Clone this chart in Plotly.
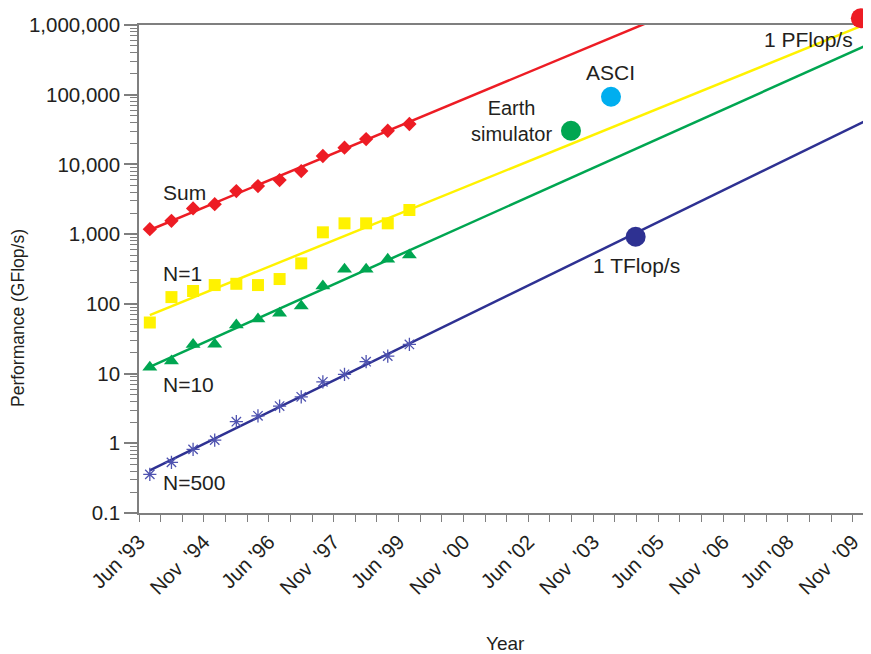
import plotly.graph_objects as go

# ---- data ----
# x is measured in TOP500 list periods (6 months each); 0 = Jun '93
periods = [0.5, 1.5, 2.5, 3.5, 4.5, 5.5, 6.5, 7.5, 8.5, 9.5, 10.5, 11.5, 12.5]
sum_vals = [1180, 1550, 2340, 2690, 4150, 4900, 5970, 8035, 13200, 17400, 23100, 30400, 38000]
n1_vals = [54, 125, 153, 186, 194, 186, 227, 381, 1062, 1429, 1429, 1429, 2219]
n10_vals = [12.3, 15.1, 26.2, 26.4, 49.7, 60.5, 73.1, 92.9, 180, 313, 313, 435, 501]
n500_vals = [0.358, 0.532, 0.818, 1.11, 2.04, 2.48, 3.42, 4.64, 7.62, 9.75, 14.8, 17.8, 26.2]

trend_x = [0.5, 33.5]
sum_trend = [1146, 2.12e7]
n1_trend_x = [0.5, 33.4]
n1_trend = [69, 9.7e5]
n10_trend = [12.5, 4.9e5]
n500_trend = [0.41, 41000]

milestone_names = ["1 TFlop/s", "Earth simulator", "ASCI", "1 PFlop/s"]
milestone_x = [22.96, 19.97, 21.82, 33.37]
milestone_y = [918, 30400, 93600, 1.25e6]
milestone_colors = ["#2e3192", "#00a651", "#00aeef", "#ed1c24"]

tick_periods = [0, 3, 6, 9, 12, 15, 18, 21, 24, 27, 30, 33]
tick_labels = ["Jun '93", "Nov\u00a0 '94", "Jun '96", "Nov\u00a0 '97", "Jun '99", "Nov\u00a0 '00",
               "Jun '02", "Nov\u00a0 '03", "Jun '05", "Nov\u00a0 '06", "Jun '08", "Nov\u00a0 '09"]
y_ticks = [0.1, 1, 10, 100, 1000, 10000, 100000, 1000000]
y_labels = ["0.1", "1", "10", "100", "1,000", "10,000", "100,000", "1,000,000"]

RED = "#ed1c24"
YEL = "#fff200"
GRN = "#00a651"
BLU = "#2e3192"
AST = "#4f53b0"
TXT = "#231f20"
AX = "#7f7f7f"
FONT = "Liberation Sans, Arial, Helvetica, sans-serif"

# layout geometry (window pixels; the page body adds an 8px offset)
FIG_W, FIG_H = 863, 646
L, B = 131, 141
AREA_H = FIG_H - B            # plotting region incl. room above the axes (505 px)
AXIS_H = 488.0                # height of the real y axis
Y_MIN, Y_MAX = -1, 6
Y_DOM_TOP = AXIS_H / AREA_H
Y2_MAX = Y_MIN + (Y_MAX - Y_MIN) / Y_DOM_TOP   # same px/decade on the helper axis

fig = go.Figure()

# trend lines
fig.add_trace(go.Scatter(x=trend_x, y=sum_trend, mode="lines", line=dict(color=RED, width=2.5), hoverinfo="skip"))
fig.add_trace(go.Scatter(x=n1_trend_x, y=n1_trend, mode="lines", line=dict(color=YEL, width=2.5), hoverinfo="skip"))
fig.add_trace(go.Scatter(x=trend_x, y=n10_trend, mode="lines", line=dict(color=GRN, width=2.5), hoverinfo="skip"))
fig.add_trace(go.Scatter(x=trend_x, y=n500_trend, mode="lines", line=dict(color=BLU, width=2.5), hoverinfo="skip"))

# data points
fig.add_trace(go.Scatter(x=periods, y=sum_vals, mode="markers", name="Sum",
                         marker=dict(symbol="diamond", size=11, color=RED)))
fig.add_trace(go.Scatter(x=periods, y=n1_vals, mode="markers", name="N=1",
                         marker=dict(symbol="square", size=12, color=YEL)))
fig.add_trace(go.Scatter(x=periods, y=n10_vals, mode="markers", name="N=10",
                         marker=dict(symbol="triangle-up", size=13, color=GRN)))
fig.add_trace(go.Scatter(x=periods, y=n500_vals, mode="markers", name="N=500",
                         marker=dict(symbol="asterisk-open", size=11, color=AST,
                                     line=dict(color=AST, width=1.3))))

# milestones on a helper axis that has the same scale but extends above the frame
fig.add_trace(go.Scatter(x=milestone_x, y=milestone_y, mode="markers", yaxis="y2",
                         cliponaxis=False,
                         marker=dict(size=20, color=milestone_colors), text=milestone_names))

W = 732.0
def px(x): return (x - 139) / W
def py(y): return (513 - y) / AREA_H

def lab(text, x, y, xanchor="left", size=21):
    fig.add_annotation(text=text, x=px(x), y=py(y), xref="paper", yref="paper",
                       xanchor=xanchor, yanchor="middle", showarrow=False,
                       font=dict(size=size, color=TXT, family=FONT))

lab("Sum", 161, 192)
lab("N=1", 161, 273)
lab("N=10", 161, 384)
lab("N=500", 161, 482)
lab("Earth<br>simulator", 512, 121, "center", 20)
lab("ASCI", 610, 72, "center")
lab("1 PFlop/s", 808, 40, "center")
lab("1 TFlop/s", 636, 265, "center")

fig.add_annotation(text="Performance (GFlop/s)", x=px(18), y=py(318), xref="paper", yref="paper",
                   textangle=-90, showarrow=False, xanchor="center", yanchor="middle",
                   font=dict(size=17.5, color=TXT, family=FONT))
fig.add_annotation(text="Year", x=px(505), y=py(643), xref="paper", yref="paper",
                   showarrow=False, xanchor="center", yanchor="middle",
                   font=dict(size=19, color=TXT, family=FONT))

minor_y = [m * 10 ** e for e in range(-1, 6) for m in range(2, 10)]

fig.update_layout(
    width=FIG_W, height=FIG_H,
    margin=dict(l=L, r=0, t=0, b=B, autoexpand=False),
    plot_bgcolor="rgba(0,0,0,0)", paper_bgcolor="white",
    showlegend=False,
    font=dict(family=FONT, color=TXT, size=19),
    yaxis2=dict(type="log", range=[Y_MIN, Y2_MAX], domain=[0, 1], anchor="x",
                visible=False, showgrid=False, zeroline=False),
)
fig.update_xaxes(
    range=[0, 33.84], showgrid=False, zeroline=False, automargin=False,
    showline=True, linecolor=AX, linewidth=1.5, mirror=True,
    tickmode="array", tickvals=tick_periods, ticktext=tick_labels, tickangle=-45,
    ticks="outside", ticklen=7, tickcolor=AX, tickwidth=1.2,
    tickfont=dict(size=20.5, color=TXT),
    minor=dict(tickmode="linear", tick0=0, dtick=1, ticks="outside", ticklen=7,
               tickcolor=AX, tickwidth=1.2, showgrid=False),
)
fig.update_layout(yaxis=dict(
    type="log", range=[Y_MIN, Y_MAX], domain=[0, Y_DOM_TOP],
    showgrid=False, zeroline=False, automargin=False,
    showline=True, linecolor=AX, linewidth=1.5,
    tickmode="array", tickvals=y_ticks, ticktext=y_labels,
    ticks="outside", ticklen=13, tickcolor=AX, tickwidth=1.5,
    tickfont=dict(size=20.5, color=TXT),
    minor=dict(tickmode="array", tickvals=minor_y, ticks="outside", ticklen=7,
               tickcolor=AX, tickwidth=1, showgrid=False),
))

fig.write_html("out.html")
